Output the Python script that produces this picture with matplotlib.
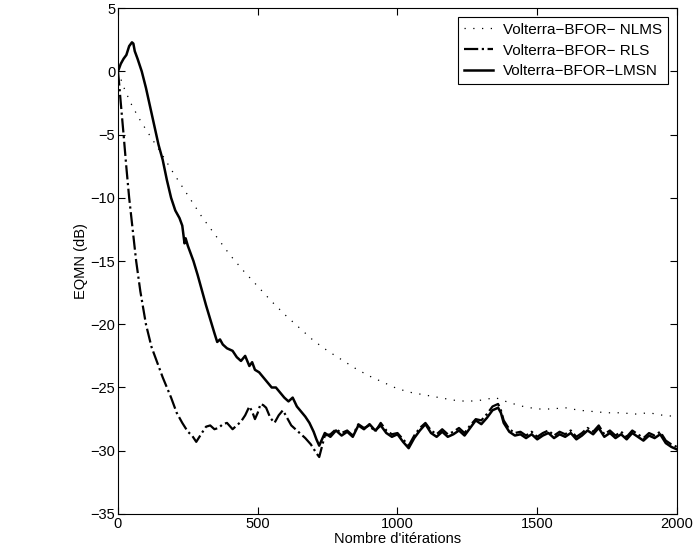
import numpy as np
import matplotlib.pyplot as plt

plt.rcParams['font.family'] = ['Liberation Sans', 'DejaVu Sans']

# NLMS (dotted)
it_nlms = [0, 25, 50, 75, 100, 150, 200, 250, 300, 350, 400, 450, 500, 550, 600,
           650, 700, 750, 800, 850, 900, 950, 1000, 1050, 1100, 1150, 1200, 1250,
           1300, 1350, 1400, 1450, 1500, 1550, 1600, 1650, 1700, 1750, 1800, 1850,
           1900, 1950, 2000]
eqm_nlms = [0.0, -1.5, -2.7, -3.7, -4.6, -6.3, -8.1, -9.8, -11.5, -13.0, -14.5,
            -15.8, -17.0, -18.2, -19.3, -20.3, -21.3, -22.1, -22.8, -23.5, -24.1,
            -24.6, -25.1, -25.4, -25.6, -25.8, -26.0, -26.1, -26.0, -25.8, -26.2,
            -26.5, -26.7, -26.7, -26.6, -26.8, -26.9, -27.0, -27.0, -27.1, -27.0,
            -27.2, -27.3]

# RLS (dash-dot)
it_rls = [0, 5, 10, 20, 30, 40, 50, 65, 80, 100, 120, 140, 160, 175, 190, 210,
          230, 250, 265, 280, 300, 315, 330, 345, 360, 375, 390, 410, 425, 440,
          455, 470, 480, 490, 500, 510, 520, 530, 545, 560, 575, 590, 605, 620,
          635, 650, 670, 690, 710, 720, 740, 760, 780, 800, 820, 840, 860, 880,
          900, 920, 940, 960, 980, 1000, 1020, 1040, 1060, 1080, 1100, 1120, 1140,
          1160, 1180, 1200, 1220, 1240, 1260, 1280, 1300, 1320, 1340, 1360, 1370,
          1380, 1400, 1420, 1440, 1460, 1480, 1500, 1520, 1540, 1560, 1580, 1600,
          1620, 1640, 1660, 1680, 1700, 1720, 1740, 1760, 1780, 1800, 1820, 1840,
          1860, 1880, 1900, 1920, 1940, 1960, 1980, 2000]
eqm_rls = [0.0, -1.2, -2.5, -5.0, -7.6, -10.0, -12.0, -15.0, -17.4, -20.0, -21.8,
           -23.0, -24.2, -25.0, -25.8, -27.0, -27.8, -28.5, -28.8, -29.3, -28.6,
           -28.1, -28.0, -28.3, -28.2, -27.9, -27.8, -28.3, -28.0, -27.7, -27.2,
           -26.5, -26.9, -27.5, -27.0, -26.3, -26.4, -26.6, -27.4, -27.8, -27.2,
           -26.8, -27.4, -28.0, -28.3, -28.6, -29.0, -29.5, -30.2, -30.5, -28.8,
           -28.7, -28.3, -28.6, -28.4, -28.8, -27.9, -28.2, -28.0, -28.5, -27.8,
           -28.4, -28.7, -28.6, -29.1, -29.6, -28.8, -28.2, -27.8, -28.4, -28.7,
           -28.3, -28.7, -28.5, -28.2, -28.6, -28.0, -27.5, -27.6, -27.1, -26.5,
           -26.3, -26.8, -27.6, -28.3, -28.6, -28.5, -28.8, -28.5, -28.9, -28.6,
           -28.4, -28.8, -28.5, -28.7, -28.4, -28.9, -28.6, -28.2, -28.5, -28.0,
           -28.7, -28.4, -28.8, -28.5, -28.9, -28.4, -28.7, -29.0, -28.6, -28.8,
           -28.5, -29.2, -29.5, -29.7]

# LMSN (solid)
it_lmsn = [0, 10, 20, 30, 40, 50, 55, 60, 70, 85, 100, 115, 130, 145, 160, 175,
           190, 205, 220, 230, 238, 242, 250, 260, 270, 285, 300, 315, 330, 345,
           355, 365, 375, 390, 410, 425, 440, 455, 470, 480, 490, 505, 520, 535,
           550, 565, 580, 595, 610, 625, 640, 655, 670, 685, 700, 710, 720, 740,
           760, 780, 800, 820, 840, 860, 880, 900, 920, 940, 960, 980, 1000, 1020,
           1040, 1060, 1080, 1100, 1120, 1140, 1160, 1180, 1200, 1220, 1240, 1260,
           1280, 1300, 1320, 1340, 1360, 1370, 1380, 1400, 1420, 1440, 1460, 1480,
           1500, 1520, 1540, 1560, 1580, 1600, 1620, 1640, 1660, 1680, 1700, 1720,
           1740, 1760, 1780, 1800, 1820, 1840, 1860, 1880, 1900, 1920, 1940, 1960,
           1980, 2000]
eqm_lmsn = [0.0, 0.6, 1.0, 1.3, 2.0, 2.3, 2.2, 1.6, 1.0, 0.0, -1.3, -2.8, -4.3,
            -5.8, -7.0, -8.6, -10.0, -11.0, -11.6, -12.2, -13.6, -13.2, -13.8,
            -14.4, -15.0, -16.1, -17.3, -18.5, -19.6, -20.7, -21.4, -21.2, -21.6,
            -21.9, -22.1, -22.6, -22.9, -22.5, -23.3, -23.0, -23.6, -23.8, -24.2,
            -24.6, -25.0, -25.0, -25.4, -25.8, -26.1, -25.8, -26.5, -26.9, -27.3,
            -27.8, -28.5, -29.1, -29.6, -28.6, -28.9, -28.4, -28.8, -28.5, -28.9,
            -28.0, -28.3, -27.9, -28.4, -28.0, -28.6, -28.9, -28.7, -29.3, -29.8,
            -29.0, -28.4, -27.9, -28.6, -28.9, -28.5, -28.9, -28.7, -28.4, -28.8,
            -28.2, -27.6, -27.9, -27.4, -26.8, -26.6, -27.0, -27.8, -28.5, -28.8,
            -28.7, -29.0, -28.7, -29.1, -28.8, -28.6, -29.0, -28.7, -28.9, -28.6,
            -29.1, -28.8, -28.4, -28.7, -28.2, -28.9, -28.6, -29.0, -28.7, -29.1,
            -28.6, -28.9, -29.2, -28.8, -29.0, -28.7, -29.4, -29.7, -29.9]

fig = plt.figure(figsize=(6.99, 5.45), dpi=100)
ax = fig.add_axes([0.1688, 0.057, 0.7997, 0.928])

ax.plot(it_nlms, eqm_nlms, color='k', linestyle=(0, (1, 6)), linewidth=0.9,
        label='Volterra\u2212BFOR\u2212 NLMS')
ax.plot(it_rls, eqm_rls, color='k', linestyle='-.', linewidth=1.6,
        label='Volterra\u2212BFOR\u2212 RLS')
ax.plot(it_lmsn, eqm_lmsn, color='k', linestyle='-', linewidth=1.8,
        label='Volterra\u2212BFOR\u2212LMSN')

ax.set_xlim(0, 2000)
ax.set_ylim(-35, 5)
ax.set_xticks([0, 500, 1000, 1500, 2000])
ax.set_yticks(np.arange(-35, 6, 5))
ax.set_yticklabels([str(v).replace('-', '\u2212') for v in range(-35, 6, 5)])
ax.tick_params(direction='in', length=5, labelsize=10.5, top=True, right=True, pad=2)
ax.set_xlabel("Nombre d'itérations", fontsize=10.5, labelpad=1)
ax.set_ylabel('EQMN (dB)', fontsize=10.5, labelpad=2)

leg = ax.legend(loc='upper right', fontsize=11, fancybox=False, framealpha=1,
                edgecolor='k', handlelength=1.9, borderaxespad=0.6,
                labelspacing=0.45, borderpad=0.35, handletextpad=0.7)
leg.get_frame().set_linewidth(0.8)

fig.savefig('out.png', dpi=100)
